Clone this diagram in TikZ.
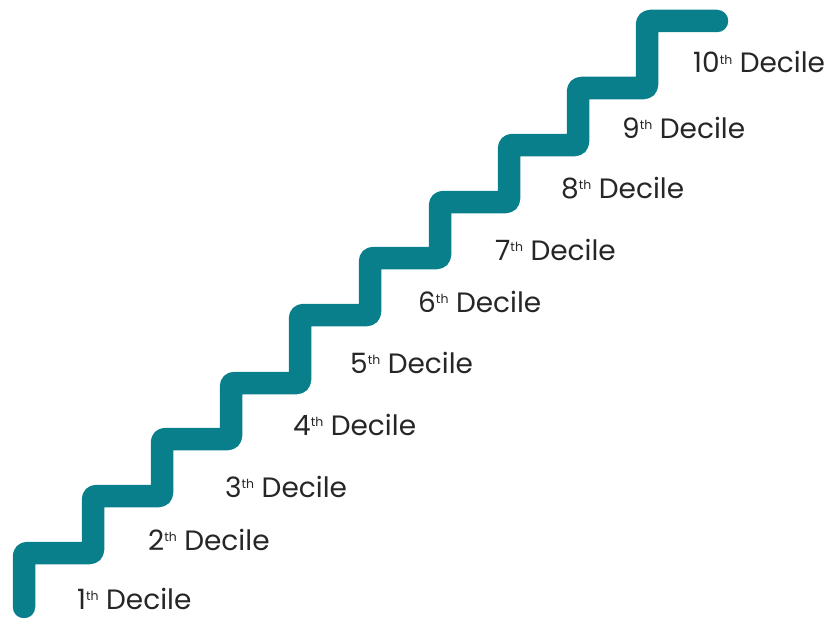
\documentclass[tikz,border=0pt]{standalone}
\usepackage{fontspec}
\setmainfont{Poppins}
\definecolor{stairteal}{RGB}{8,127,139}
\definecolor{labeltxt}{RGB}{38,38,38}
\newcommand\ordth{\raisebox{9pt}{\fontsize{12.5}{12.5}\selectfont th}}
\tikzset{
  stair/.style={draw=stairteal, line width=22.5pt, rounded corners=3pt, line cap=round, line join=round},
  lbl/.style={anchor=base west, inner sep=0pt, text depth=0pt, text=labeltxt, font=\fontsize{28}{30}\selectfont}
}
\begin{document}
\begin{tikzpicture}[x=1pt,y=-1pt]
\useasboundingbox (0,0) rectangle (830,618);
\draw[stair] (24,607) -- (24,553) -- (93,553) -- (93,496) -- (162,496) -- (162,439)
  -- (231,439) -- (231,383) -- (300,383) -- (300,315) -- (370,315) -- (370,258)
  -- (440,258) -- (440,202) -- (509,202) -- (509,145) -- (578,145) -- (578,88)
  -- (647,88) -- (647,21) -- (717,21);
\node[lbl] (d1) at (77,609) {1\ordth{} Decile};
\node[lbl] (d2) at (148,550) {2\ordth{} Decile};
\node[lbl] (d3) at (225,497) {3\ordth{} Decile};
\node[lbl] (d4) at (293,435) {4\ordth{} Decile};
\node[lbl] (d5) at (350,373) {5\ordth{} Decile};
\node[lbl] (d6) at (418,312) {6\ordth{} Decile};
\node[lbl] (d7) at (495,260) {7\ordth{} Decile};
\node[lbl] (d8) at (561,198) {8\ordth{} Decile};
\node[lbl] (d9) at (622,138) {9\ordth{} Decile};
\node[lbl] (d10) at (693,73) {10\ordth{} Decile};
\end{tikzpicture}
\end{document}
